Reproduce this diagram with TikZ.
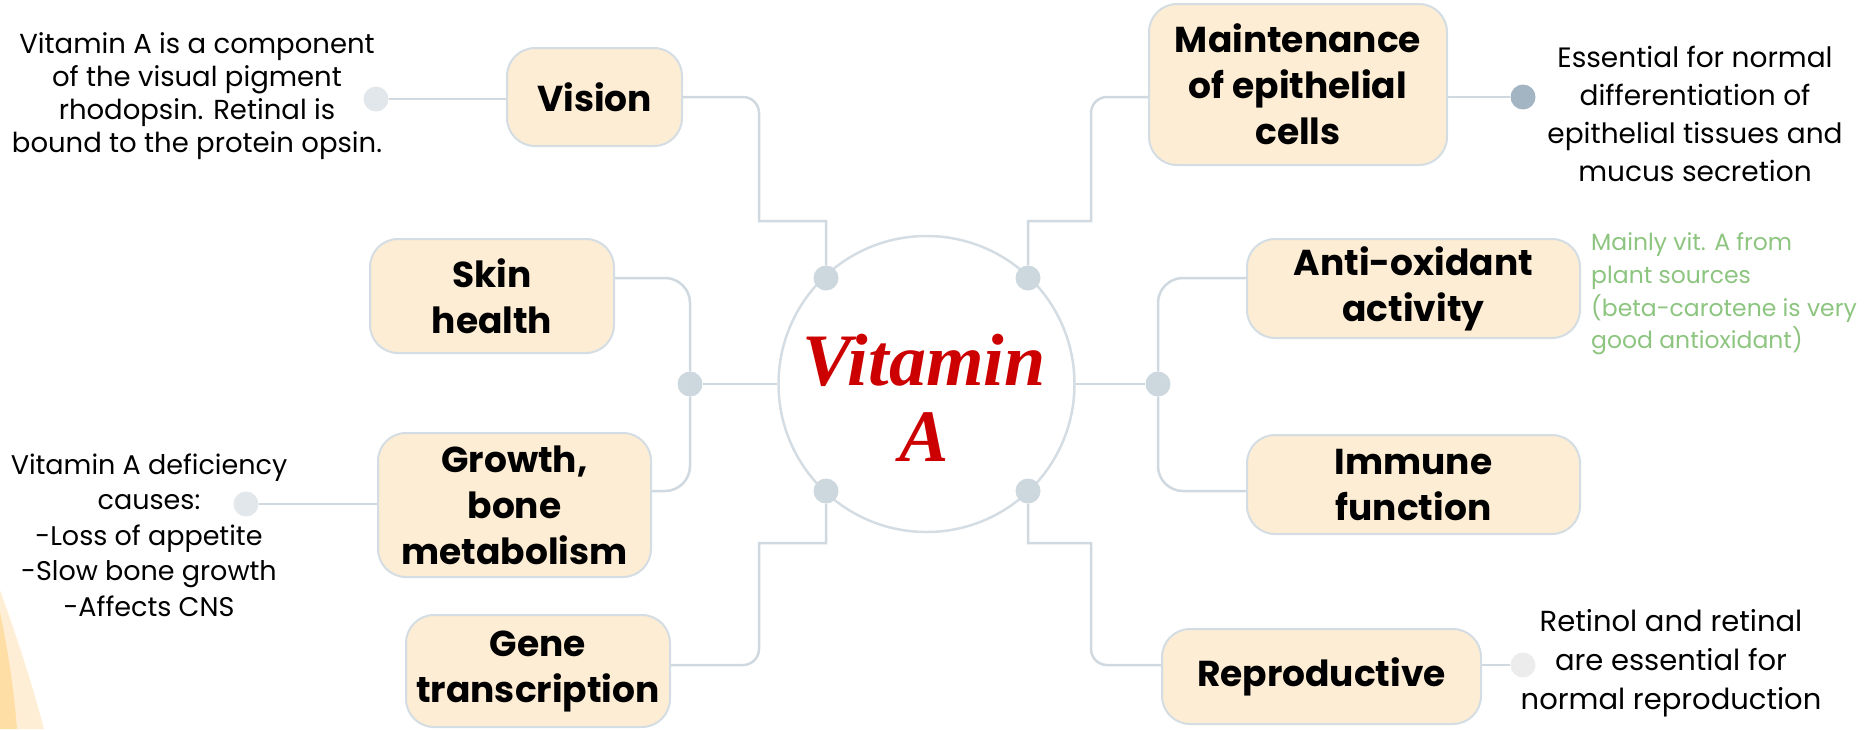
\documentclass[tikz,border=0pt]{standalone}
\usepackage{fontspec}
\setmainfont{Poppins}
\newfontfamily\titlefont{Liberation Serif}
\usepackage{tikz}
\usetikzlibrary{calc}
\definecolor{boxcream}{RGB}{253,237,212}
\definecolor{boxedge}{RGB}{212,221,227}
\definecolor{linkgray}{RGB}{208,217,223}
\definecolor{dotgray}{RGB}{205,215,222}
\definecolor{dotpale}{RGB}{226,231,235}
\definecolor{dotslate}{RGB}{163,180,195}
\definecolor{dotwhite}{RGB}{236,236,236}
\definecolor{notegreen}{RGB}{141,197,128}
\definecolor{titlered}{RGB}{204,0,0}
\definecolor{orlight}{RGB}{255,238,214}
\definecolor{ordark}{RGB}{255,222,166}

\begin{document}
\begin{tikzpicture}[
  x=1pt, y=-1pt,
  topic/.style={draw=boxedge, line width=2pt, fill=boxcream, rounded corners=28pt, align=center, inner sep=0pt, font=\fontsize{36}{46}\selectfont\bfseries},
  note/.style={align=center, inner sep=0pt, font=\fontsize{27.5}{33}\selectfont},
  conn/.style={draw=linkgray, line width=2.5pt},
  hub/.style={circle, fill=dotgray, minimum size=25pt, inner sep=0pt},
  pin/.style={circle, minimum size=25pt, inner sep=0pt}
]
\useasboundingbox (0,0) rectangle (1872,729);
% corner swoosh
\fill[orlight] (0,590) .. controls (18,640) and (34,690) .. (44,729) -- (0,729) -- cycle;
\fill[ordark] (0,612) .. controls (8,650) and (14,690) .. (17,729) -- (0,729) -- cycle;
% centre
\node[circle, draw=boxedge, line width=2.5pt, minimum size=296pt] (vita) at (926.5,384) {};
\node[align=center, text=titlered, font=\titlefont\fontsize{74}{76}\selectfont\bfseries\itshape] (vitatext) at (924,398) {Vitamin\\A};
% topics
\node[topic, minimum width=175pt, minimum height=98pt] (vision) at (594.5,97) {Vision};
\node[topic, minimum width=244pt, minimum height=114pt] (skin) at (492,296) {Skin\\health};
\node[topic, minimum width=273pt, minimum height=144pt] (growth) at (514.5,505) {Growth,\\bone\\metabolism};
\node[topic, minimum width=264pt, minimum height=112pt] (gene) at (538,671) {Gene\\transcription};
\node[topic, minimum width=298pt, minimum height=161pt] (maint) at (1298,84.5) {Maintenance\\of epithelial\\cells};
\node[topic, minimum width=333pt, minimum height=99pt] (anti) at (1413.5,288.5) {Anti-oxidant\\activity};
\node[topic, minimum width=333pt, minimum height=99pt] (immune) at (1413.5,484.5) {Immune\\function};
\node[topic, minimum width=319pt, minimum height=95pt] (repro) at (1321.5,676.5) {Reproductive};
% notes
\node[note] (visionnote) at (197,96) {Vitamin A is a component\\of the visual pigment\\rhodopsin. Retinal is\\bound to the protein opsin.};
\node[note, font=\fontsize{27}{35.5}\selectfont] (growthnote) at (149,535) {Vitamin A deficiency\\causes:\\-Loss of appetite\\-Slow bone growth\\-Affects CNS};
\node[note, font=\fontsize{28}{38}\selectfont] (maintnote) at (1695,114) {Essential for normal\\differentiation of\\epithelial tissues and\\mucus secretion};
\node[note, font=\fontsize{29}{39}\selectfont] (repronote) at (1671,663) {Retinol and retinal\\are essential for\\normal reproduction};
\node[note, align=left, anchor=west, text=notegreen, font=\fontsize{23.5}{32.6}\selectfont] (antinote) at (1591,294) {Mainly vit. A from\\plant sources\\(beta-carotene is very\\good antioxidant)};
% dots
\node[hub] (jtl) at (826,278) {};
\node[hub] (jtr) at (1028,278) {};
\node[hub] (jbl) at (826,491) {};
\node[hub] (jbr) at (1028,491) {};
\node[hub] (jl) at (690,384) {};
\node[hub] (jr) at (1158,384) {};
\node[pin, fill=dotpale] (visiondot) at (376,99) {};
\node[pin, fill=dotslate] (maintdot) at (1523,97) {};
\node[pin, fill=dotpale] (growthdot) at (246,504) {};
\node[pin, fill=dotwhite] (reprodot) at (1523,665) {};
% links, left
\draw[conn, rounded corners=16pt] (vision.east) -| (759,160) [sharp corners] -- (759,221) -| (jtl);
\draw[conn, rounded corners=25pt] (skin.east |- jtl) -| (jl);
\draw[conn, rounded corners=25pt] (growth.east |- jbl) -| (jl);
\draw[conn] (jl) -- (vita);
\draw[conn, rounded corners=16pt] (gene.east |- reprodot) -| (759,600) [sharp corners] -- (759,543) -| (jbl);
% links, right
\draw[conn, rounded corners=16pt] (maint.west |- vision) -| (1091,160) [sharp corners] -- (1091,221) -| (jtr);
\draw[conn, rounded corners=25pt] (anti.west |- jtr) -| (jr);
\draw[conn, rounded corners=25pt] (immune.west |- jbr) -| (jr);
\draw[conn] (jr) -- (vita);
\draw[conn, rounded corners=16pt] (repro.west |- reprodot) -| (1091,600) [sharp corners] -- (1091,543) -| (jbr);
% links to notes
\draw[conn] (visiondot) -- (vision.west |- visiondot);
\draw[conn] (growthdot) -- (growth.west |- growthdot);
\draw[conn] (maint.east |- maintdot) -- (maintdot);
\draw[conn] (repro.east |- reprodot) -- (reprodot);
\end{tikzpicture}
\end{document}
